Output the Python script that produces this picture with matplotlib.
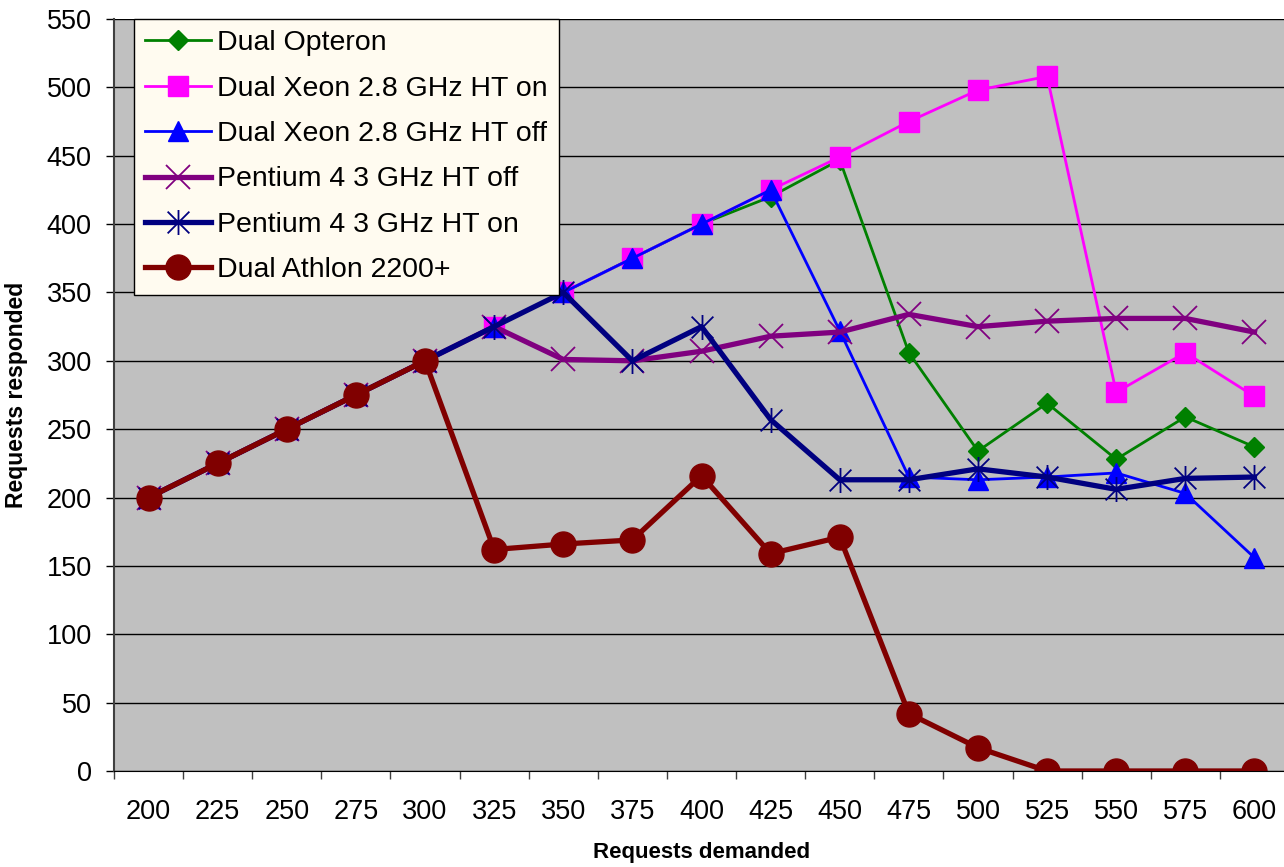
import numpy as np
import matplotlib
matplotlib.use("Agg")
import matplotlib.pyplot as plt
from matplotlib.path import Path

plt.rcParams['font.family'] = ['Liberation Sans', 'DejaVu Sans']

demanded = [200, 225, 250, 275, 300, 325, 350, 375, 400, 425, 450, 475, 500, 525, 550, 575, 600]

opteron = [200, 225, 250, 275, 300, 325, 350, 375, 400, 420, 447, 306, 234, 269, 228, 259, 237]
xeon_ht_on = [200, 225, 250, 275, 300, 325, 350, 375, 400, 425, 449, 475, 498, 508, 277, 306, 274]
xeon_ht_off = [200, 225, 250, 275, 300, 325, 350, 375, 400, 425, 322, 215, 213, 215, 218, 203, 156]
p4_ht_off = [200, 225, 250, 275, 300, 325, 301, 300, 307, 318, 321, 334, 325, 329, 331, 331, 321]
p4_ht_on = [200, 225, 250, 275, 300, 325, 350, 300, 325, 257, 213, 213, 221, 215, 206, 214, 215]
athlon = [200, 225, 250, 275, 300, 162, 166, 169, 216, 159, 171, 42, 17, 0, 0, 0, 0]

# asterisk marker like Excel's: an x with a vertical bar
asterisk = Path([(-1, -1), (1, 1), (-1, 1), (1, -1), (0, -1.15), (0, 1.15)],
                [Path.MOVETO, Path.LINETO] * 3)

fig = plt.figure(figsize=(12.84, 8.67), dpi=100)
ax = fig.add_axes([114 / 1284, 96 / 867, 1175 / 1284, 752 / 867])
ax.set_facecolor('#C0C0C0')

x = np.arange(len(demanded))

ax.plot(x, opteron, color='#008000', lw=2.0, marker='D', ms=10.5,
        mec='#008000', mfc='#008000', label='Dual Opteron')
ax.plot(x, xeon_ht_on, color='#FF00FF', lw=2.0, marker='s', ms=14.5,
        mec='#FF00FF', mfc='#FF00FF', label='Dual Xeon 2.8 GHz HT on')
ax.plot(x, xeon_ht_off, color='#0000FF', lw=2.0, marker='^', ms=15,
        mec='#0000FF', mfc='#0000FF', label='Dual Xeon 2.8 GHz HT off')
ax.plot(x, p4_ht_off, color='#800080', lw=3.8, marker='x', ms=17,
        mew=1.3, label='Pentium 4 3 GHz HT off')
ax.plot(x, p4_ht_on, color='#000080', lw=3.8, marker=asterisk, ms=18,
        mew=1.3, mfc='none', mec='#000080', label='Pentium 4 3 GHz HT on')
ax.plot(x, athlon, color='#800000', lw=3.8, marker='o', ms=18,
        mec='#800000', mfc='#800000', label='Dual Athlon 2200+')

ax.set_xlim(-0.5, len(demanded) - 0.5)
ax.set_ylim(0, 550)
ax.set_yticks(np.arange(0, 551, 50))
ax.set_xticks(x)
ax.set_xticklabels([str(d) for d in demanded])
ax.set_xticks(np.arange(-0.5, len(demanded), 1.0), minor=True)
ax.yaxis.grid(True, color='black', lw=1.0)
ax.set_axisbelow(True)

ax.tick_params(axis='x', which='major', length=0, pad=20, labelsize=19.5)
ax.tick_params(axis='x', which='minor', length=6, width=1, color='#404040')
ax.tick_params(axis='y', length=6, width=1, pad=10, labelsize=19.5)

for s in ['top', 'right']:
    ax.spines[s].set_visible(False)
ax.spines['left'].set_color('#404040')
ax.spines['left'].set_linewidth(1.5)
ax.spines['bottom'].set_color('black')

ax.set_xlabel('Requests demanded', fontsize=16, fontweight='bold')
ax.set_ylabel('Requests responded', fontsize=16.5, fontweight='bold')
ax.xaxis.set_label_coords(0.5, -0.094)
ax.yaxis.set_label_coords(-0.073, 0.5)

leg = ax.legend(loc='upper left', bbox_to_anchor=(20 / 1175, 1.0), borderaxespad=0,
                fontsize=20.5, handlelength=2.3, handletextpad=0.2, labelspacing=0.68,
                borderpad=0.4, fancybox=False, framealpha=1.0,
                facecolor='#FFFBF0', edgecolor='black')
leg.get_frame().set_linewidth(1.0)

fig.savefig('out.png', dpi=100)
